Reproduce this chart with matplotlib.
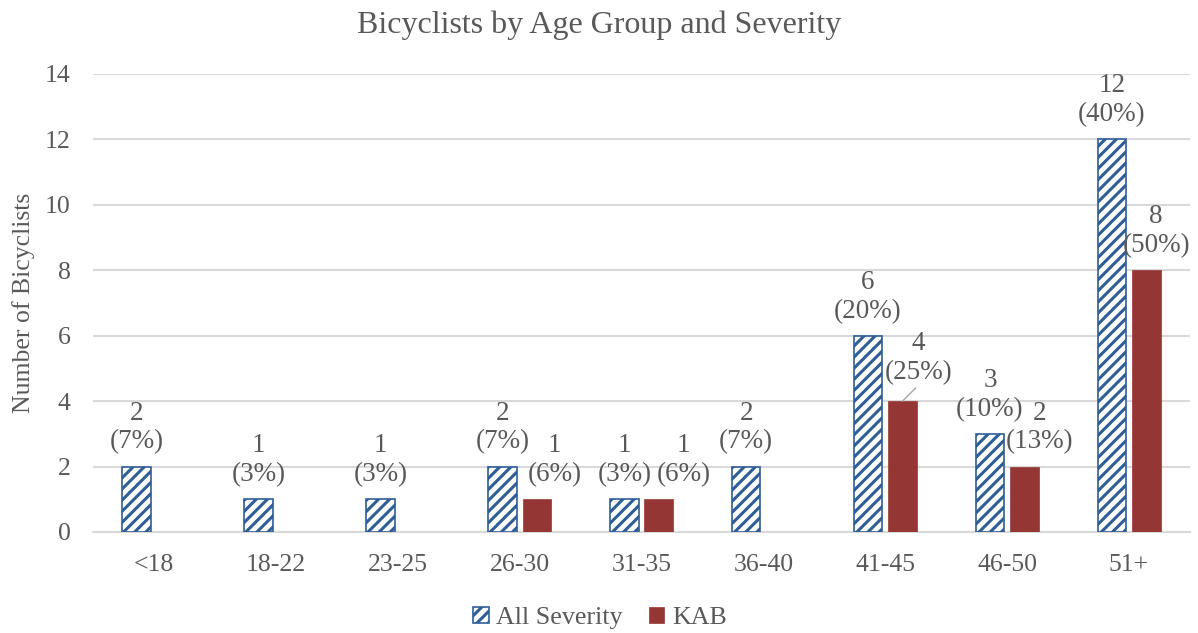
import numpy as np
import matplotlib
matplotlib.use("Agg")
import matplotlib.pyplot as plt

# data
age_groups = ["<18", "18-22", "23-25", "26-30", "31-35", "36-40", "41-45", "46-50", "51+"]
all_severity = [2, 1, 1, 2, 1, 2, 6, 3, 12]
kab = [0, 0, 0, 1, 1, 0, 4, 2, 8]

# manual nudges of KAB labels (pixels), like the dragged labels in the original
kab_label_dx = [0, 0, 0, 18, 25, 0, 16, 15, 10]
kab_label_dy = [0, 0, 0, 0, 0, 0, 4, 0, 0]
kab_leader = [False, False, False, False, False, False, True, False, False]

BLUE = "#2F5D96"
RED = "#943634"
TEXT = "#595959"
GRID = "#D9D9D9"

plt.rcParams["font.family"] = ["Liberation Serif", "DejaVu Serif"]
plt.rcParams["hatch.linewidth"] = 2.2
plt.rcParams["hatch.color"] = BLUE

LINE_GAP = 29  # pixels between the count line and the percent line
LABEL_FS = 19.5


def pct(v, total):
    # Excel style rounding (half up)
    return f"({int(v * 100 / total + 0.5)}%)"


def bar_label(ax, xpos, v, total, dx=0, dy=0, leader=False):
    base = 12 + dy
    kw = {}
    if leader:
        kw["arrowprops"] = dict(arrowstyle="-", color="#A6A6A6", lw=1.0, shrinkA=0, shrinkB=0,
                                relpos=(0.5, 0.0))
    ax.annotate(pct(v, total), xy=(xpos, v), xytext=(dx, base), textcoords="offset pixels",
                ha="center", va="bottom", fontsize=LABEL_FS, color=TEXT,
                annotation_clip=False, **kw)
    ax.annotate(str(v), xy=(xpos, v), xytext=(dx, base + LINE_GAP), textcoords="offset pixels",
                ha="center", va="bottom", fontsize=LABEL_FS, color=TEXT, annotation_clip=False)


fig = plt.figure(figsize=(11.98, 6.33), dpi=100)
ax = fig.add_axes([93 / 1198, 1 - 532 / 633, (1190 - 93) / 1198, (532 - 74) / 633])

x = np.arange(len(age_groups))
width = 0.234
off = 0.141

b1 = ax.bar(x - off, all_severity, width, facecolor="white", edgecolor=BLUE,
            hatch="///", linewidth=1.2, label="All Severity", zorder=3)
b2 = ax.bar(x + off, kab, width, color=RED, edgecolor=RED, linewidth=0.5,
            label="KAB", zorder=3)

tot_all = sum(all_severity)
tot_kab = sum(kab)

for i, v in enumerate(all_severity):
    if v > 0:
        bar_label(ax, x[i] - off, v, tot_all)

for i, v in enumerate(kab):
    if v > 0:
        bar_label(ax, x[i] + off, v, tot_kab, kab_label_dx[i], kab_label_dy[i], kab_leader[i])

ax.set_xlim(-0.5, len(age_groups) - 0.5)
ax.set_ylim(0, 14)
ax.set_yticks(range(0, 15, 2))
ax.set_xticks(x)
ax.set_xticklabels(age_groups)
ax.tick_params(axis="both", length=0, labelsize=18.5, labelcolor=TEXT)
ax.tick_params(axis="y", pad=16)
ax.tick_params(axis="x", pad=16)
ax.grid(axis="y", color=GRID, linewidth=1.5, zorder=0)
for s in ["top", "right", "left"]:
    ax.spines[s].set_visible(False)
ax.spines["bottom"].set_color(GRID)
ax.spines["bottom"].set_linewidth(1.5)

ax.set_ylabel("Number of Bicyclists", fontsize=18.5, color=TEXT)
ax.yaxis.set_label_coords(-(93 - 35) / (1190 - 93), 0.5)

fig.text(0.5, 1 - 25 / 633, "Bicyclists by Age Group and Severity", ha="center", va="center",
         fontsize=23, color=TEXT)

fig.legend(handles=[b1, b2], loc="center", bbox_to_anchor=(600 / 1198, 1 - 618 / 633),
           ncol=2, frameon=False, fontsize=18.7, labelcolor=TEXT, handlelength=0.6,
           handleheight=0.6, handletextpad=0.3, columnspacing=1.0)

fig.savefig("out.png", dpi=100)
